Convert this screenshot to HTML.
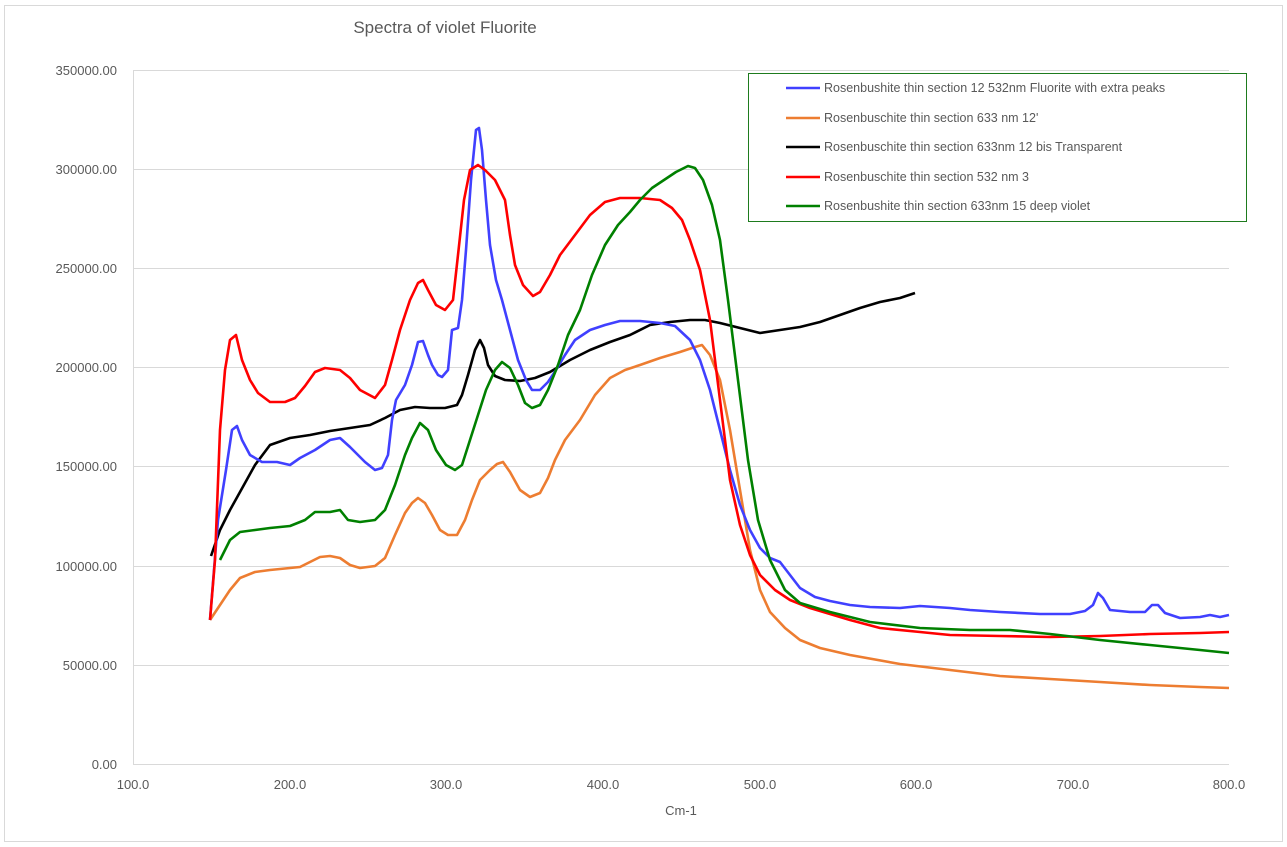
<!DOCTYPE html>
<html><head><meta charset="utf-8"><style>
html,body{margin:0;padding:0;background:#fff;}
svg{display:block;font-family:"Liberation Sans",sans-serif;}
</style></head><body>
<svg width="1287" height="847" xmlns="http://www.w3.org/2000/svg">
<rect x="4.5" y="5.5" width="1278" height="836" fill="#fff" stroke="#d9d9d9"/>
<text x="445" y="33" font-size="17" fill="#595959" text-anchor="middle">Spectra of violet Fluorite</text>
<g stroke="#d9d9d9" stroke-width="1">
<line x1="133" y1="70.5" x2="1229" y2="70.5"/>
<line x1="133" y1="169.5" x2="1229" y2="169.5"/>
<line x1="133" y1="268.5" x2="1229" y2="268.5"/>
<line x1="133" y1="367.5" x2="1229" y2="367.5"/>
<line x1="133" y1="466.5" x2="1229" y2="466.5"/>
<line x1="133" y1="566.5" x2="1229" y2="566.5"/>
<line x1="133" y1="665.5" x2="1229" y2="665.5"/>
<line x1="133" y1="764.5" x2="1229" y2="764.5"/>
<line x1="133.5" y1="70" x2="133.5" y2="764"/>
</g>
<g font-size="13" fill="#595959" text-anchor="end">
<text x="117" y="75">350000.00</text>
<text x="117" y="174">300000.00</text>
<text x="117" y="273">250000.00</text>
<text x="117" y="372">200000.00</text>
<text x="117" y="471">150000.00</text>
<text x="117" y="571">100000.00</text>
<text x="117" y="670">50000.00</text>
<text x="117" y="769">0.00</text>
</g>
<g font-size="13" fill="#595959" text-anchor="middle">
<text x="133" y="789">100.0</text>
<text x="290" y="789">200.0</text>
<text x="446" y="789">300.0</text>
<text x="603" y="789">400.0</text>
<text x="760" y="789">500.0</text>
<text x="916" y="789">600.0</text>
<text x="1073" y="789">700.0</text>
<text x="1229" y="789">800.0</text>
<text x="681" y="815">Cm-1</text>
</g>
<g fill="none" stroke-width="2.6" stroke-linejoin="round">
<polyline stroke="#ed7d31" points="210,620 220,605 230,590 240,578 255,572 270,570 290,568 300,567 310,562 320,557 330,556 340,558 350,565 360,568 375,566 385,558 395,535 405,513 412,503 418,498 425,503 432,515 440,530 448,535 457,535 465,520 472,500 480,480 490,470 497,464 503,462 510,472 520,490 530,497 540,493 548,478 555,460 565,440 580,420 595,395 610,378 625,370 640,365 660,358 680,352 695,347 702,345 710,355 720,380 730,430 740,490 750,550 760,590 770,612 785,628 800,640 820,648 850,655 900,664 950,670 1000,676 1050,679 1100,682 1150,685 1200,687 1229,688"/>
<polyline stroke="#000" points="211,556 220,530 230,510 240,492 255,465 270,445 290,438 310,435 330,431 350,428 370,425 385,418 400,410 415,407 430,408 445,408 457,405 462,395 468,375 475,350 480,340 484,348 488,365 495,376 505,380 520,381 535,378 550,372 570,360 590,350 610,342 630,335 650,325 670,322 690,320 705,320 720,323 740,328 760,333 780,330 800,327 820,322 840,315 860,308 880,302 900,298 915,293"/>
<polyline stroke="#4040ff" points="210,620 218,520 226,470 232,430 237,426 242,440 250,455 262,462 277,462 290,465 300,458 315,450 330,440 340,438 350,447 365,462 375,470 382,468 388,455 392,420 396,400 405,385 412,365 418,342 423,341 428,355 432,365 438,375 442,377 448,370 452,330 458,328 462,300 466,250 471,180 476,130 479,128 482,150 486,200 490,245 496,280 502,300 510,330 518,360 526,380 532,390 540,390 548,382 556,370 565,355 575,340 590,330 605,325 620,321 640,321 660,323 675,326 690,340 700,360 710,390 720,430 730,470 740,505 750,530 760,548 770,558 780,562 790,575 800,588 815,597 830,601 850,605 870,607 900,608 920,606 950,608 970,610 1000,612 1040,614 1070,614 1085,611 1093,605 1098,593 1103,598 1110,610 1130,612 1145,612 1152,605 1158,605 1165,613 1180,618 1200,617 1210,615 1220,617 1229,615"/>
<polyline stroke="#ff0000" points="210,620 215,560 220,430 225,370 230,340 236,335 242,360 250,380 258,393 270,402 285,402 295,398 305,386 315,372 325,368 340,370 350,378 360,390 375,398 385,385 392,360 400,330 410,300 418,283 423,280 428,290 436,305 445,310 453,300 458,255 464,200 470,170 478,165 485,170 495,180 505,200 510,235 515,265 523,285 533,296 540,292 550,275 560,255 575,235 590,215 605,202 620,198 640,198 660,200 672,208 682,220 690,240 700,270 710,320 720,400 730,480 740,525 750,555 760,575 775,590 790,600 810,608 830,614 850,620 880,628 920,632 950,635 1000,636 1050,637 1100,636 1150,634 1200,633 1229,632"/>
<polyline stroke="#008000" points="220,560 230,540 240,532 255,530 270,528 290,526 305,520 315,512 330,512 340,510 348,520 360,522 375,520 385,510 395,485 405,455 412,438 420,423 428,430 436,450 446,465 455,470 462,465 470,440 478,415 486,390 495,370 502,362 510,368 518,385 525,403 532,408 540,405 548,390 558,365 568,335 580,310 592,275 605,245 618,225 630,212 640,200 652,188 664,180 676,172 688,166 695,168 703,180 712,205 720,240 728,300 738,380 748,460 758,520 770,560 785,590 800,603 830,612 870,622 920,628 970,630 1010,630 1050,634 1100,640 1150,645 1200,650 1229,653"/>
</g>
<rect x="748.5" y="73.5" width="498" height="148" fill="#fff" stroke="#1e7b1e"/>
<g stroke-width="2.6">
<line x1="786" y1="88" x2="820" y2="88" stroke="#4040ff"/>
<line x1="786" y1="118" x2="820" y2="118" stroke="#ed7d31"/>
<line x1="786" y1="147" x2="820" y2="147" stroke="#000"/>
<line x1="786" y1="177" x2="820" y2="177" stroke="#ff0000"/>
<line x1="786" y1="206" x2="820" y2="206" stroke="#008000"/>
</g>
<g font-size="12.5" fill="#595959">
<text x="824" y="92">Rosenbushite  thin section 12 532nm Fluorite with extra peaks</text>
<text x="824" y="122">Rosenbuschite thin section 633 nm 12'</text>
<text x="824" y="151">Rosenbuschite thin section 633nm 12 bis Transparent</text>
<text x="824" y="181">Rosenbuschite thin section  532 nm 3</text>
<text x="824" y="210">Rosenbushite thin section 633nm 15 deep violet</text>
</g>
</svg>
</body></html>
